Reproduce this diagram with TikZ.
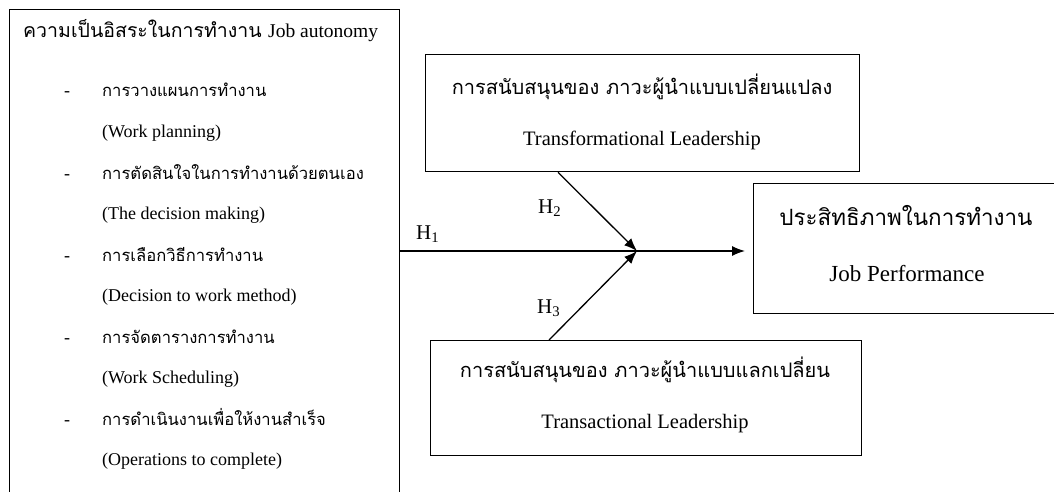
\documentclass[tikz,border=0pt]{standalone}
\usepackage{fontspec}
\setmainfont{Liberation Serif}
\newfontfamily\thai[Script=Thai]{Loma}
\usetikzlibrary{arrows.meta,calc}
\begin{document}
\begin{tikzpicture}[x=1pt,y=-1pt,
  box/.style={draw, line width=1.3pt, inner sep=0pt, anchor=north west},
  thl/.style={inner sep=0pt, anchor=base west, font=\thai\fontsize{16.6}{19}\selectfont},
  enl/.style={inner sep=0pt, anchor=base west, font=\fontsize{18}{21}\selectfont},
  dashmark/.style={inner sep=0pt, anchor=base, font=\fontsize{18}{21}\selectfont},
  thb/.style={inner sep=0pt, anchor=base, font=\thai\fontsize{20}{23}\selectfont},
  enb/.style={inner sep=0pt, anchor=base, font=\fontsize{20.5}{24}\selectfont},
  hlab/.style={inner sep=0pt, anchor=base west, font=\fontsize{21}{24}\selectfont},
  arr/.style={line width=1.3pt, -{Latex[length=13pt,width=10pt]}}]
\useasboundingbox (0,0) rectangle (1054,492);
\fill[white] (0,0) rectangle (1054,492);
\begin{scope}
  \clip (0,0) rectangle (1054,492);
  \node[box, minimum width=390pt, minimum height=530pt] (auto) at (9,9) {};
  \node[box, minimum width=306pt, minimum height=130pt] (perf) at (753,183) {};
\end{scope}
\node[box, minimum width=434pt, minimum height=117pt] (tf) at (425,54) {};
\node[box, minimum width=431pt, minimum height=115pt] (tc) at (430,340) {};

% left box texts
\node[thl, font=\thai\fontsize{19.5}{22}\selectfont] (title) at (23,38) {ความเป็นอิสระในการทำงาน \fontspec{Liberation Serif}\fontsize{19.5}{22}\selectfont Job autonomy};
\node[dashmark] (d1) at (67,97) {-};
\node[thl] (t1) at (102,97) {การวางแผนการทำงาน};
\node[enl] (e1) at (102,137) {(Work planning)};
\node[dashmark] (d2) at (67,179) {-};
\node[thl] (t2) at (102,179) {การตัดสินใจในการทำงานด้วยตนเอง};
\node[enl] (e2) at (102,219) {(The decision making)};
\node[dashmark] (d3) at (67,261) {-};
\node[thl] (t3) at (102,261) {การเลือกวิธีการทำงาน};
\node[enl] (e3) at (102,301) {(Decision to work method)};
\node[dashmark] (d4) at (67,343) {-};
\node[thl] (t4) at (102,343) {การจัดตารางการทำงาน};
\node[enl] (e4) at (102,383) {(Work Scheduling)};
\node[dashmark] (d5) at (67,425) {-};
\node[thl] (t5) at (102,425) {การดำเนินงานเพื่อให้งานสำเร็จ};
\node[enl] (e5) at (102,465) {(Operations to complete)};

% top box
\node[thb] (tft) at (642,95) {การสนับสนุนของ ภาวะผู้นำแบบเปลี่ยนแปลง};
\node[enb] (tfe) at (642,145) {Transformational Leadership};
% bottom box
\node[thb] (tct) at (645,377) {การสนับสนุนของ ภาวะผู้นำแบบแลกเปลี่ยน};
\node[enb] (tce) at (645,428) {Transactional Leadership};
% right box
\node[thb, font=\thai\fontsize{22.4}{26}\selectfont] (pft) at (906,225) {ประสิทธิภาพในการทำงาน};
\node[enb, font=\fontsize{23}{27}\selectfont] (pfe) at (907,281) {Job Performance};

% connectors
\coordinate (J) at (637,251);
\draw[arr, shorten >=8pt] (J -| auto.east) -- (J -| perf.west);
\draw[arr] ([xshift=133pt]tf.south west) -- (J);
\draw[arr] ([xshift=119pt]tc.north west) -- (J);

% labels
\node[hlab] (h1) at (416,239) {H\textsubscript{1}};
\node[hlab] (h2) at (538,213) {H\textsubscript{2}};
\node[hlab] (h3) at (537,313) {H\textsubscript{3}};
\end{tikzpicture}
\end{document}
